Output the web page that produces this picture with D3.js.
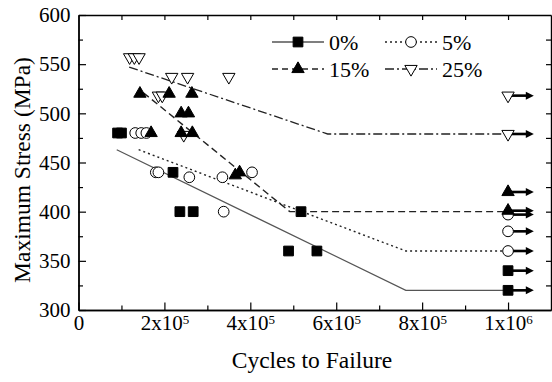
<!DOCTYPE html>
<html>
<head>
<meta charset="utf-8">
<script src="https://cdn.jsdelivr.net/npm/d3@7"></script>
<style>
  body { margin: 0; background: #fff; }
  svg, svg text { font-family: "Liberation Serif", "Times New Roman", serif; }
  svg { display: block; }
</style>
</head>
<body>
<svg id="chart" width="552" height="382"></svg>
<script>
const seriesLabels = ["0%", "5%", "15%", "25%"];

// [cycles to failure, max stress MPa]
const points0 = [[91e3, 480], [100e3, 480], [220e3, 440], [236e3, 400], [267e3, 400], [518e3, 400], [489e3, 360], [555e3, 360]];
const points5 = [[132e3, 480], [146e3, 480], [158e3, 480], [180e3, 440], [186e3, 440], [258e3, 435], [335e3, 435], [404e3, 440], [338e3, 400]];
const points15 = [[143e3, 520], [211e3, 520], [264e3, 520], [239e3, 500], [256e3, 500], [169e3, 480], [239e3, 480], [265e3, 480], [365e3, 437], [375e3, 440]];
const points25 = [[119e3, 557], [130e3, 557], [141e3, 557], [217e3, 537], [254e3, 537], [350e3, 537], [186e3, 518], [195e3, 518], [245e3, 478]];

// run-outs at 1e6 cycles (stress levels)
const runoutCycles = 1e6;
const runout0 = [340, 320];
const runout5 = [397, 380, 360];
const runout15 = [420, 401];
const runout25 = [518, 479];

// fitted S-N lines
const fit0 = [[89e3, 463], [762e3, 320], [1e6, 320]];
const fit5 = [[140e3, 463], [762e3, 360], [1e6, 360]];
const fit15 = [[151e3, 521], [492e3, 400], [1e6, 400]];
const fit25 = [[118e3, 547], [580e3, 479], [1e6, 479]];

const xTicks = [0, 2e5, 4e5, 6e5, 8e5, 1e6];
const xTickBase = ["0", "2x10", "4x10", "6x10", "8x10", "1x10"];
const xTickExp = ["", "5", "5", "5", "5", "6"];
const yTicks = [300, 350, 400, 450, 500, 550, 600];

const svg = d3.select("#chart");

const x = d3.scaleLinear().domain([0, 1.1e6]).range([78.5, 551]);
const y = d3.scaleLinear().domain([300, 600]).range([310, 15]);

const xMinor = d3.range(1e5, 1.1e6, 2e5);
const yMinor = d3.range(325, 600, 50);

// bottom axis
const gx = svg.append("g").attr("transform", `translate(0,${y(300)})`)
  .call(d3.axisBottom(x).tickValues(xTicks).tickSize(-7.5).tickSizeOuter(0).tickPadding(5));
gx.selectAll(".tick text").each(function(d, i) {
  const t = d3.select(this).text(null);
  t.append("tspan").text(xTickBase[i]);
  if (xTickExp[i]) t.append("tspan").attr("dy", "-0.45em").attr("font-size", 13).text(xTickExp[i]);
});
svg.append("g").attr("transform", `translate(0,${y(300)})`)
  .call(d3.axisBottom(x).tickValues(xMinor).tickSize(-4.5).tickSizeOuter(0).tickFormat(""));

// left axis
svg.append("g").attr("transform", `translate(${x(0)},0)`)
  .call(d3.axisLeft(y).tickValues(yTicks).tickSize(-7.5).tickSizeOuter(0).tickPadding(8));
svg.append("g").attr("transform", `translate(${x(0)},0)`)
  .call(d3.axisLeft(y).tickValues(yMinor).tickSize(-4.5).tickSizeOuter(0).tickFormat(""));

// top and right mirror axes
svg.append("g").attr("transform", `translate(0,${y(600)})`)
  .call(d3.axisTop(x).tickValues(d3.range(1e5, 1.1e6, 1e5)).tickSize(-5).tickSizeOuter(0).tickFormat(""));
svg.append("g").attr("transform", `translate(${x(1.1e6)},0)`)
  .call(d3.axisRight(y).tickValues(d3.range(325, 600, 25)).tickSize(-5).tickSizeOuter(0).tickFormat(""));

svg.selectAll("g").attr("font-family", null);
svg.selectAll(".domain").attr("stroke", "#000").attr("stroke-width", 1.4);
svg.selectAll(".tick line").attr("stroke", "#000").attr("stroke-width", 1.2);
svg.selectAll(".tick text").attr("font-size", 21).attr("fill", "#000")
  .style("font-family", "'Liberation Serif', serif");

// titles
svg.append("text").attr("x", 312).attr("y", 368).attr("text-anchor", "middle")
  .attr("font-size", 23.5).text("Cycles to Failure");
svg.append("text").attr("transform", "translate(30,170) rotate(-90)").attr("text-anchor", "middle")
  .attr("font-size", 23.5).text("Maximum Stress (MPa)");

// fitted lines
const line = d3.line().x(d => x(d[0])).y(d => y(d[1]));
const fitStyles = [
  { data: fit0, stroke: "#555", dash: null, w: 1.2 },
  { data: fit5, stroke: "#222", dash: "2,3", w: 1.4 },
  { data: fit15, stroke: "#222", dash: "7,4", w: 1.4 },
  { data: fit25, stroke: "#222", dash: "9,3,2,3", w: 1.3 }
];
fitStyles.forEach(f => {
  svg.append("path").attr("d", line(f.data)).attr("fill", "none")
    .attr("stroke", f.stroke).attr("stroke-width", f.w).attr("stroke-dasharray", f.dash);
});

// run-out arrows
function arrows(vals) {
  const x0 = x(runoutCycles), x1 = x(1.06e6);
  vals.forEach(v => {
    svg.append("line").attr("x1", x0).attr("x2", x1 - 6).attr("y1", y(v)).attr("y2", y(v))
      .attr("stroke", "#000").attr("stroke-width", 2.6);
    svg.append("path").attr("d", `M${x1},${y(v)}L${x1 - 8},${y(v) - 4}L${x1 - 8},${y(v) + 4}Z`).attr("fill", "#000");
  });
}
[runout0, runout5, runout15, runout25].forEach(arrows);

const shapes = [
  { type: d3.symbolSquare, size: 95, fill: "#000", rot: 0 },
  { type: d3.symbolCircle, size: 90, fill: "#fff", rot: 0 },
  { type: d3.symbolTriangle, size: 66, fill: "#000", rot: 0 },
  { type: d3.symbolTriangle, size: 66, fill: "#fff", rot: 180 }
];

function markers(pts, s) {
  const sym = d3.symbol().type(s.type).size(s.size);
  svg.append("g").selectAll("path").data(pts).join("path")
    .attr("d", sym)
    .attr("transform", d => `translate(${x(d[0])},${y(d[1])}) rotate(${s.rot})`)
    .attr("fill", s.fill).attr("stroke", "#000").attr("stroke-width", 1);
}

const allPoints = [points0, points5, points15, points25];
const allRunouts = [runout0, runout5, runout15, runout25];
[0, 1, 3, 2].forEach(i => {
  markers(allPoints[i].concat(allRunouts[i].map(v => [runoutCycles, v])), shapes[i]);
});

// legend
const legendPos = [[272, 42], [385, 42], [272, 69], [385, 69]];
const legendDash = [null, "2,3", "6,4", "9,3,2,3"];
seriesLabels.forEach((lab, i) => {
  const [lx, ly] = legendPos[i];
  svg.append("line").attr("x1", lx).attr("x2", lx + 52).attr("y1", ly).attr("y2", ly)
    .attr("stroke", i === 0 ? "#555" : "#222").attr("stroke-width", 1.3)
    .attr("stroke-dasharray", legendDash[i]);
  const s = shapes[i];
  svg.append("path").attr("d", d3.symbol().type(s.type).size(s.size)())
    .attr("transform", `translate(${lx + 26},${ly}) rotate(${s.rot})`)
    .attr("fill", s.fill).attr("stroke", "#000");
  svg.append("text").attr("x", lx + 57).attr("y", ly + 7.5).attr("font-size", 22).text(lab);
});
</script>
</body>
</html>
